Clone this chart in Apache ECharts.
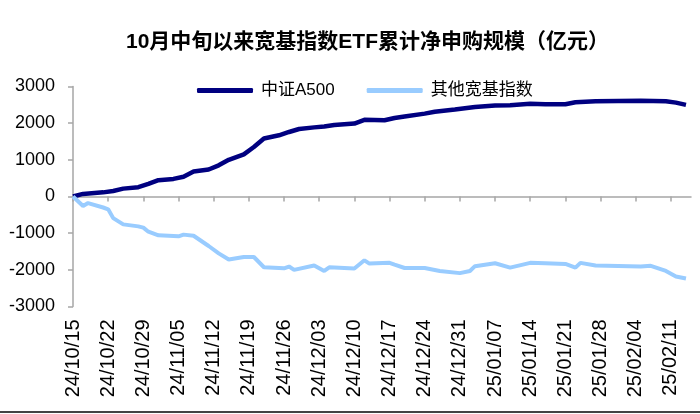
<!DOCTYPE html>
<html><head><meta charset="utf-8">
<script src="https://cdn.jsdelivr.net/npm/echarts@6/dist/echarts.min.js"></script>
<style>html,body{margin:0;padding:0;background:#fff}#c{width:700px;height:414px}</style>
</head><body><div id="c"></div>
<script>
// Axis range (calendar days) and y ticks
const firstDay = '2024-10-15';
const lastDay = '2025-02-15';
const yTicks = [-3000, -2000, -1000, 0, 1000, 2000, 3000];
const seriesNames = ['中证A500', '其他宽基指数'];

// 中证A500 cumulative net subscription (亿元)
const a500Dates = ['24/10/15','24/10/17','24/10/21','24/10/23','24/10/25','24/10/28','24/10/30','24/11/01','24/11/04','24/11/06','24/11/08','24/11/11','24/11/13','24/11/15','24/11/18','24/11/20','24/11/22','24/11/25','24/11/27','24/11/29','24/12/02','24/12/04','24/12/06','24/12/10','24/12/12','24/12/16','24/12/18','24/12/20','24/12/24','24/12/26','24/12/30','25/01/03','25/01/07','25/01/10','25/01/14','25/01/17','25/01/21','25/01/23','25/01/27','25/02/05','25/02/10','25/02/12','25/02/14'];
const a500Values = [0,70,113,150,215,255,345,445,480,540,680,735,850,1000,1150,1350,1580,1670,1760,1840,1885,1910,1950,1990,2090,2080,2140,2180,2260,2310,2370,2440,2480,2490,2530,2515,2515,2570,2600,2610,2595,2560,2500];

// 其他宽基指数 cumulative net subscription (亿元)
const otherDates = ['24/10/15','24/10/16','24/10/17','24/10/18','24/10/21','24/10/22','24/10/23','24/10/25','24/10/28','24/10/29','24/10/30','24/11/01','24/11/05','24/11/06','24/11/08','24/11/11','24/11/13','24/11/15','24/11/18','24/11/20','24/11/22','24/11/26','24/11/27','24/11/28','24/12/02','24/12/04','24/12/05','24/12/10','24/12/12','24/12/13','24/12/17','24/12/18','24/12/20','24/12/24','24/12/27','24/12/31','25/01/02','25/01/03','25/01/07','25/01/10','25/01/14','25/01/17','25/01/21','25/01/23','25/01/24','25/01/27','25/02/05','25/02/07','25/02/10','25/02/12','25/02/14'];
const otherValues = [0,-130,-260,-180,-300,-350,-590,-760,-815,-850,-960,-1060,-1085,-1040,-1070,-1350,-1550,-1720,-1650,-1650,-1930,-1960,-1910,-2000,-1880,-2030,-1930,-1965,-1740,-1830,-1810,-1860,-1950,-1950,-2030,-2090,-2030,-1900,-1820,-1940,-1810,-1820,-1840,-1940,-1810,-1880,-1910,-1890,-2030,-2180,-2235];

// build calendar-day categories
const categories = [];
(function(){
  const d = new Date(firstDay + 'T00:00:00Z');
  const end = new Date(lastDay + 'T00:00:00Z');
  while (d <= end) {
    const yy = String(d.getUTCFullYear()).slice(2);
    const mm = String(d.getUTCMonth() + 1).padStart(2, '0');
    const dd = String(d.getUTCDate()).padStart(2, '0');
    categories.push(yy + '/' + mm + '/' + dd);
    d.setUTCDate(d.getUTCDate() + 1);
  }
})();

const FONT = "'Liberation Sans', 'Noto Sans CJK SC', sans-serif";
const axisGray = '#a6a6a6';

const chart = echarts.init(document.getElementById('c'), null, {renderer: 'canvas'});
chart.setOption({
  backgroundColor: '#fff',
  animation: false,
  textStyle: {fontFamily: FONT, color: '#000'},
  title: {
    text: '10月中旬以来宽基指数ETF累计净申购规模（亿元）',
    left: 121, top: 27,
    textStyle: {fontSize: 21, fontWeight: 'bold', color: '#000', fontFamily: FONT}
  },
  legend: {
    left: 192, top: 77,
    icon: 'roundRect',
    itemWidth: 56, itemHeight: 5, itemGap: 32,
    textStyle: {fontSize: 17, color: '#000', fontFamily: FONT, padding: [0, 0, 0, 3]},
    data: seriesNames
  },
  grid: {left: 73, right: 9, top: 86.5, bottom: 107.5, containLabel: false},
  xAxis: [{
    type: 'category', data: categories, boundaryGap: false,
    axisLine: {onZero: true, lineStyle: {color: axisGray, width: 1.5}},
    axisTick: {show: true, interval: 6, length: 5, lineStyle: {color: axisGray, width: 1.5}},
    axisLabel: {show: false}
  }, {
    type: 'category', data: categories, boundaryGap: false, position: 'bottom',
    axisLine: {show: false, onZero: false}, axisTick: {show: false},
    axisLabel: {interval: 6, rotate: 90, margin: 13, fontSize: 20, color: '#000', fontFamily: FONT}
  }],
  yAxis: {
    type: 'value', min: yTicks[0], max: yTicks[yTicks.length - 1], interval: 1000,
    splitLine: {show: false},
    axisLine: {show: true, lineStyle: {color: axisGray, width: 1.5}},
    axisTick: {show: true, length: 5, lineStyle: {color: axisGray, width: 1.5}},
    axisLabel: {fontSize: 18, color: '#000', margin: 18, fontFamily: FONT, formatter: v => String(v)}
  },
  graphic: [{type: 'rect', shape: {x: 0, y: 411, width: 700, height: 2}, style: {fill: '#444'}}],
  series: [{
    name: seriesNames[0], type: 'line', xAxisIndex: 0, symbol: 'none',
    lineStyle: {color: '#000080', width: 4.5}, itemStyle: {color: '#000080'},
    data: a500Dates.map((d, i) => [d, a500Values[i]])
  }, {
    name: seriesNames[1], type: 'line', xAxisIndex: 0, symbol: 'none',
    lineStyle: {color: '#99ccff', width: 4}, itemStyle: {color: '#99ccff'},
    data: otherDates.map((d, i) => [d, otherValues[i]])
  }]
});
</script></body></html>
